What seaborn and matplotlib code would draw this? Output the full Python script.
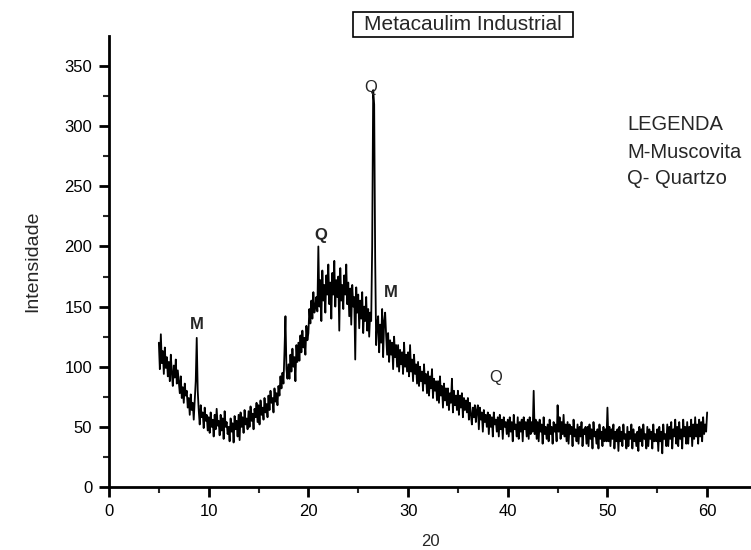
import numpy as np
import pandas as pd
import matplotlib
matplotlib.use("Agg")
import matplotlib.pyplot as plt
from matplotlib.patches import Rectangle
import seaborn as sns

# 2-theta scan from 5 to 60 degrees, 0.1 degree step
scan_start, scan_stop, scan_step = 5.0, 60.0, 0.1

# Measured counts, one row per degree of 2-theta
intensity = [
    120, 98, 127, 103, 113, 94, 116, 99, 108, 92,      # 5
    104, 88, 110, 95, 84, 101, 91, 106, 86, 97,        # 6
    88, 78, 92, 74, 83, 70, 86, 76, 80, 66,            # 7
    74, 60, 77, 64, 70, 56, 72, 88, 124, 80,           # 8
    64, 52, 68, 58, 62, 49, 66, 55, 60, 47,            # 9
    58, 45, 62, 50, 56, 42, 60, 48, 65, 51,            # 10
    55, 43, 60, 47, 57, 40, 63, 50, 54, 44,            # 11
    50, 38, 57, 46, 53, 37, 59, 48, 55, 42,            # 12
    60, 39, 62, 50, 58, 45, 64, 52, 57, 48,            # 13
    63, 50, 67, 55, 61, 48, 65, 58, 70, 54,            # 14
    68, 52, 72, 60, 66, 56, 74, 62, 69, 58,            # 15
    76, 64, 80, 70, 74, 62, 82, 71, 78, 68,            # 16
    84, 76, 92, 82, 95, 86, 112, 142, 98, 90,          # 17
    102, 90, 110, 96, 115, 100, 108, 88, 118, 104,     # 18
    120, 105, 126, 112, 130, 116, 124, 110, 134, 122,  # 19
    128, 148, 136, 155, 140, 162, 145, 150, 158, 146,  # 20
    200, 150, 172, 138, 180, 155, 168, 145, 176, 160,  # 21
    185, 152, 170, 140, 178, 160, 188, 150, 172, 158,  # 22
    175, 130, 182, 155, 168, 148, 176, 160, 185, 152,  # 23
    170, 142, 165, 135, 168, 150, 158, 106, 166, 145,  # 24
    160, 132, 155, 140, 162, 128, 150, 138, 158, 130,  # 25
    148, 125, 145, 138, 200, 330, 318, 190, 118, 135,  # 26
    142, 112, 135, 120, 148, 108, 138, 145, 126, 110,  # 27
    128, 104, 122, 110, 120, 98, 125, 108, 118, 100,   # 28
    118, 96, 114, 102, 112, 94, 120, 100, 110, 96,     # 29
    112, 92, 118, 96, 106, 88, 110, 94, 102, 86,       # 30
    104, 84, 100, 88, 96, 80, 102, 86, 94, 78,         # 31
    96, 76, 92, 82, 98, 74, 90, 80, 88, 72,            # 32
    88, 70, 92, 76, 84, 66, 86, 72, 82, 68,            # 33
    82, 64, 78, 70, 90, 62, 80, 68, 76, 64,            # 34
    80, 60, 76, 66, 78, 58, 74, 64, 72, 62,            # 35
    74, 56, 70, 60, 52, 66, 58, 68, 54, 64,            # 36
    68, 48, 66, 56, 62, 46, 64, 54, 60, 50,            # 37
    62, 44, 60, 50, 58, 42, 62, 52, 56, 46,            # 38
    58, 42, 60, 48, 56, 40, 58, 50, 54, 44,            # 39
    56, 42, 58, 46, 54, 38, 60, 48, 52, 42,            # 40
    58, 40, 54, 46, 56, 38, 58, 48, 54, 42,            # 41
    56, 40, 58, 44, 54, 46, 80, 44, 56, 40,            # 42
    54, 38, 56, 46, 52, 36, 58, 44, 50, 40,            # 43
    52, 38, 56, 44, 50, 36, 54, 46, 52, 38,            # 44
    68, 46, 58, 40, 54, 44, 60, 42, 52, 38,            # 45
    54, 36, 52, 44, 50, 34, 56, 42, 48, 38,            # 46
    52, 36, 50, 42, 54, 34, 48, 44, 50, 36,            # 47
    50, 34, 52, 40, 48, 32, 54, 42, 46, 36,            # 48
    48, 32, 52, 40, 46, 34, 50, 38, 48, 38,            # 49
    66, 38, 50, 34, 48, 40, 52, 32, 46, 38,            # 50
    48, 30, 50, 38, 46, 34, 52, 40, 44, 32,            # 51
    50, 34, 46, 40, 52, 32, 48, 38, 44, 34,            # 52
    46, 30, 50, 38, 48, 34, 52, 40, 44, 32,            # 53
    50, 34, 48, 40, 46, 32, 52, 38, 44, 38,            # 54
    48, 30, 50, 38, 46, 28, 52, 40, 44, 34,            # 55
    52, 34, 50, 40, 54, 32, 48, 42, 56, 36,            # 56
    50, 34, 54, 40, 48, 32, 56, 42, 50, 36,            # 57
    54, 36, 50, 42, 56, 34, 52, 40, 58, 42,            # 58
    52, 36, 56, 42, 54, 38, 58, 44, 52, 46,            # 59
    62,                                                # 60
]

# Phase labels: (text, 2-theta, intensity, bold)
phase_labels = ["M", "Q", "Q", "M", "Q"]
phase_x = [8.8, 21.2, 26.3, 28.3, 38.8]
phase_y = [135, 209, 332, 162, 91]
phase_bold = [True, True, False, True, False]

legend_lines = ["LEGENDA", "M-Muscovita", "Q- Quartzo"]

two_theta = np.round(np.arange(scan_start, scan_stop + scan_step / 2, scan_step), 1)
df = pd.DataFrame({"two_theta": two_theta, "intensity": intensity})

sns.set_style("ticks")
plt.rcParams["font.family"] = ["Liberation Sans", "DejaVu Sans"]

W, H = 751, 550
fig = plt.figure(figsize=(W / 100, H / 100), dpi=100)
ax = fig.add_axes([109 / W, (H - 487) / H, (W - 109) / W, (487 - 36) / H])

sns.lineplot(data=df, x="two_theta", y="intensity", ax=ax,
             color="black", linewidth=1.3, estimator=None, sort=False)

ax.set_xlim(0, 64.4)
ax.set_ylim(0, 375)
ax.set_xticks(np.arange(0, 61, 10))
ax.set_xticks(np.arange(5, 65, 10), minor=True)
ax.set_yticks(np.arange(0, 351, 50))
ax.set_yticks(np.arange(25, 351, 50), minor=True)

for side in ("top", "right"):
    ax.spines[side].set_visible(False)
for side in ("left", "bottom"):
    ax.spines[side].set_linewidth(2.0)
    ax.spines[side].set_color("black")

ax.tick_params(axis="both", which="major", length=7, width=2, direction="out",
               labelsize=12, pad=5, colors="black")
ax.tick_params(axis="both", which="minor", length=4, width=1.5, direction="out")

ax.set_xlabel("20", fontsize=12, labelpad=11)
ax.set_ylabel("Intensidade", fontsize=14, labelpad=17)

for lab, x, y, b in zip(phase_labels, phase_x, phase_y, phase_bold):
    ax.text(x, y, lab, ha="center", va="center", fontsize=12,
            fontweight="bold" if b else "normal")

# Boxed title
fig.patches.append(Rectangle((353 / W, 1 - 37 / H), 220 / W, 25 / H,
                             transform=fig.transFigure, fill=False,
                             edgecolor="black", linewidth=1.2))
fig.text(463 / W, 1 - 25 / H, "Metacaulim Industrial", ha="center",
         va="center", fontsize=15)

# Legend block
for i, line in enumerate(legend_lines):
    fig.text(627 / W, 1 - (125 + i * 27) / H, line, ha="left", va="center",
             fontsize=14.5)

fig.savefig("out.png", dpi=100, facecolor="white")
